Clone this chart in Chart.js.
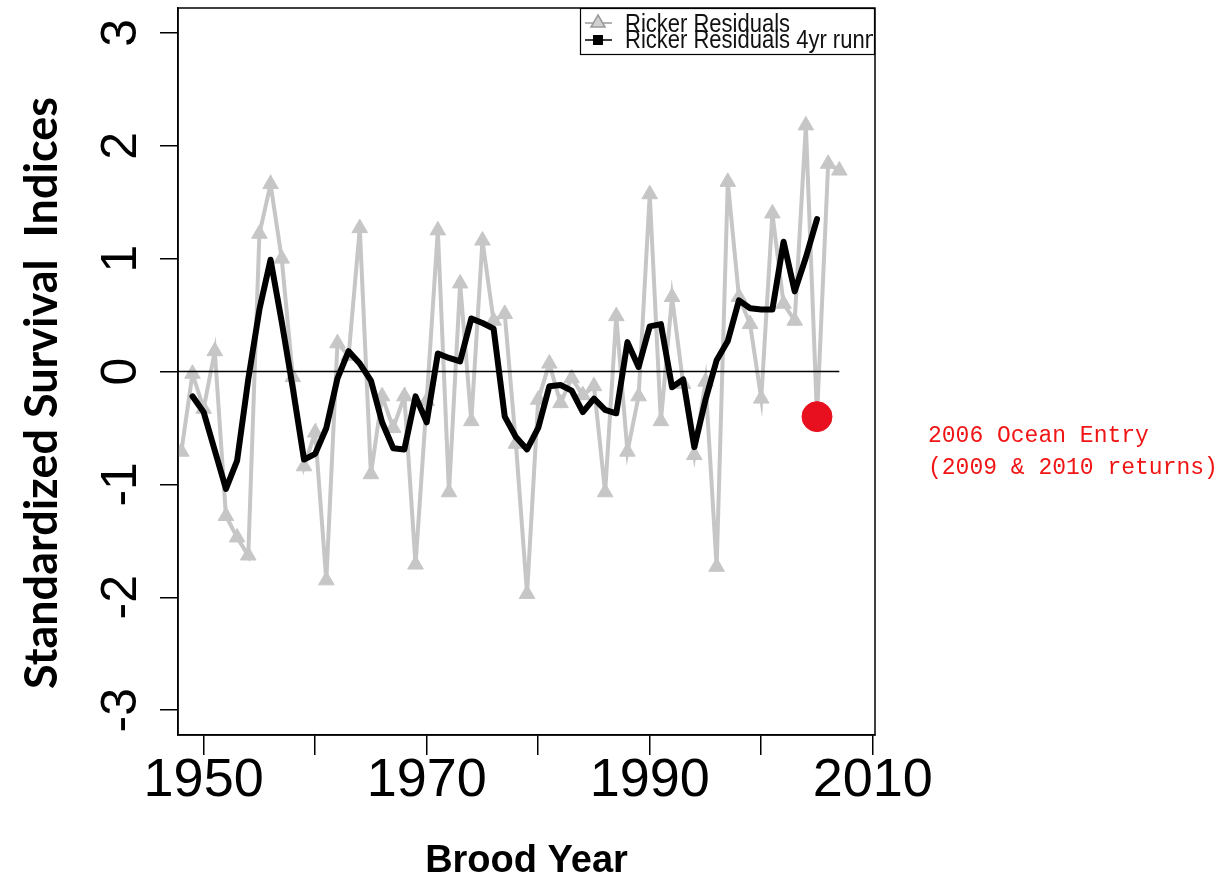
<!DOCTYPE html>
<html>
<head>
<meta charset="utf-8">
<script src="https://cdn.jsdelivr.net/npm/chart.js@4.4.1/dist/chart.umd.min.js"></script>
<style>
  html, body { margin: 0; padding: 0; background: #fff; }
  #wrap { width: 1225px; height: 884px; }
</style>
</head>
<body>
<div id="wrap"><canvas id="chart" width="1225" height="884"></canvas></div>
<script>
// brood years and Ricker residuals
const residYears = [1948, 1949, 1950, 1951, 1952, 1953, 1954, 1955, 1956, 1957,
    1958, 1959, 1960, 1961, 1962, 1963, 1964, 1965, 1966, 1967,
    1968, 1969, 1970, 1971, 1972, 1973, 1974, 1975, 1976, 1977,
    1978, 1979, 1980, 1981, 1982, 1983, 1984, 1985, 1986, 1987,
    1988, 1989, 1990, 1991, 1992, 1993, 1994, 1995, 1996, 1997,
    1998, 1999, 2000, 2001, 2002, 2003, 2004, 2005, 2006, 2007]
const residuals = [-0.71, -0.02, -0.33, 0.18, -1.28, -1.47, -1.63, 1.22, 1.66, 1.00,
    -0.05, -0.84, -0.54, -1.85, 0.25, 0.14, 1.27, -0.91, -0.22, -0.50,
    -0.22, -1.71, -0.26, 1.25, -1.07, 0.78, -0.44, 1.16, 0.45, 0.51,
    -0.64, -1.97, -0.25, 0.07, -0.28, -0.06, -0.21, -0.13, -1.07, 0.49,
    -0.71, -0.22, 1.57, -0.44, 0.66, -0.11, -0.74, -0.09, -1.73, 1.68,
    0.66, 0.42, -0.24, 1.40, 0.60, 0.45, 2.18, -0.40, 1.84, 1.78]

// 4 year running mean
const runYears = [1949, 1950, 1951, 1952, 1953, 1954, 1955, 1956, 1957, 1958,
    1959, 1960, 1961, 1962, 1963, 1964, 1965, 1966, 1967, 1968,
    1969, 1970, 1971, 1972, 1973, 1974, 1975, 1976, 1977, 1978,
    1979, 1980, 1981, 1982, 1983, 1984, 1985, 1986, 1987, 1988,
    1989, 1990, 1991, 1992, 1993, 1994, 1995, 1996, 1997, 1998,
    1999, 2000, 2001, 2002, 2003, 2004, 2005]
const runMean = [-0.22, -0.36, -0.70, -1.04, -0.79, -0.07, 0.55, 0.99, 0.44, -0.15,
    -0.78, -0.73, -0.50, -0.06, 0.18, 0.07, -0.08, -0.45, -0.68, -0.69,
    -0.22, -0.45, 0.16, 0.12, 0.09, 0.47, 0.43, 0.38, -0.40, -0.58,
    -0.69, -0.50, -0.13, -0.12, -0.17, -0.36, -0.24, -0.34, -0.37, 0.26,
    0.04, 0.40, 0.42, -0.14, -0.07, -0.67, -0.25, 0.10, 0.27, 0.63,
    0.56, 0.55, 0.55, 1.15, 0.71, 1.01, 1.35]

// highlighted brood year (2006 ocean entry)
const entryYear = [2005]
const entryValue = [-0.40]

const zeroSpan = [1947, 2007]
const xTickYears = [1950, 1960, 1970, 1980, 1990, 2000, 2010]
const xLabelYears = [1950, 1970, 1990, 2010]
const yTicks = [-3, -2, -1, 0, 1, 2, 3]

function pairs(xs, ys) {
    return xs.map((x, i) => ({ x: x, y: ys[i] }))
}

// box round the plot, y title, legend and the side note
const extras = {
    id: 'extras',
    afterDraw(chart) {
        const ctx = chart.ctx
        const a = chart.chartArea
        ctx.save()
        ctx.strokeStyle = '#000'
        ctx.lineWidth = 1.5
        ctx.strokeRect(a.left, a.top, a.right - a.left, a.bottom - a.top)

        // y title
        ctx.save()
        ctx.translate(42, 393)
        ctx.rotate(-Math.PI / 2)
        ctx.fillStyle = '#000'
        ctx.font = 'bold 45px Lato'
        ctx.textAlign = 'center'
        ctx.textBaseline = 'middle'
        ctx.fillText('Standardized Survival  Indices', 0, 0)
        ctx.restore()

        // legend, tucked into the top right corner
        const lx = 580, ly = a.top, lw = a.right - 580, lh = 47
        ctx.save()
        ctx.fillStyle = '#fff'
        ctx.fillRect(lx, ly, lw, lh)
        ctx.lineWidth = 1.2
        ctx.strokeStyle = '#000'
        ctx.strokeRect(lx + 0.5, ly + 0.5, lw - 1, lh - 1)
        ctx.beginPath()
        ctx.rect(lx, ly, lw - 2, lh)
        ctx.clip()
        ctx.lineWidth = 1.5
        ctx.strokeStyle = '#9a9a9a'
        ctx.beginPath(); ctx.moveTo(lx + 5, ly + 15); ctx.lineTo(lx + 32, ly + 15); ctx.stroke()
        ctx.beginPath(); ctx.moveTo(lx + 18, ly + 7); ctx.lineTo(lx + 25, ly + 19); ctx.lineTo(lx + 11, ly + 19); ctx.closePath()
        ctx.fillStyle = '#d0d0d0'; ctx.fill(); ctx.stroke()
        ctx.strokeStyle = '#000'
        ctx.beginPath(); ctx.moveTo(lx + 5, ly + 32); ctx.lineTo(lx + 32, ly + 32); ctx.stroke()
        ctx.fillStyle = '#000'
        ctx.fillRect(lx + 13, ly + 27, 10, 10)
        ctx.fillStyle = '#111'
        ctx.font = '25px "Liberation Sans"'
        ctx.textBaseline = 'alphabetic'
        ctx.save(); ctx.translate(lx + 45, ly + 24); ctx.scale(0.88, 1)
        ctx.fillText('Ricker Residuals', 0, 0); ctx.restore()
        ctx.save(); ctx.translate(lx + 45, ly + 40); ctx.scale(0.88, 1)
        ctx.fillText('Ricker Residuals 4yr running mean', 0, 0); ctx.restore()
        ctx.restore()

        // side note
        ctx.fillStyle = '#f01414'
        ctx.font = '23px "Liberation Mono"'
        ctx.textBaseline = 'alphabetic'
        ctx.fillText('2006 Ocean Entry', 928, 442)
        ctx.fillText('(2009 & 2010 returns)', 928, 474)
        ctx.restore()
    }
}

Chart.defaults.font.family = '"Liberation Sans", Arial, sans-serif'
Chart.defaults.color = '#000'

const ctx = document.getElementById('chart').getContext('2d')
const chart = new Chart(ctx, {
    type: 'line',
    data: {
        datasets: [{
            label: 'Ricker Residuals',
            data: pairs(residYears, residuals),
            borderColor: '#c6c6c6',
            borderWidth: 4,
            pointStyle: 'triangle',
            pointRadius: 9,
            pointBackgroundColor: '#c6c6c6',
            pointBorderColor: '#c6c6c6',
            pointBorderWidth: 1,
            tension: 0,
            order: 4
        }, {
            label: 'zero',
            data: pairs(zeroSpan, [0, 0]),
            borderColor: '#000',
            borderWidth: 1.5,
            pointRadius: 0,
            order: 3
        }, {
            label: 'Ricker Residuals 4yr running mean',
            data: pairs(runYears, runMean),
            borderColor: '#000',
            borderWidth: 6,
            borderJoinStyle: 'round',
            borderCapStyle: 'round',
            pointRadius: 0,
            tension: 0,
            order: 2
        }, {
            label: '2006 Ocean Entry',
            data: pairs(entryYear, entryValue),
            showLine: false,
            pointRadius: 15,
            pointBackgroundColor: '#e8101e',
            pointBorderColor: '#e8101e',
            order: 1
        }]
    },
    options: {
        responsive: false,
        animation: false,
        events: [],
        layout: { autoPadding: false, padding: { top: 8, right: 350, left: 0, bottom: 0 } },
        plugins: {
            legend: { display: false },
            tooltip: { enabled: false }
        },
        scales: {
            x: {
                type: 'linear',
                min: 1947.7,
                max: 2010.2,
                afterBuildTicks: s => { s.ticks = xTickYears.map(v => ({ value: v })) },
                afterFit: s => { s.height = 149; s.paddingLeft = 0; s.paddingRight = 0 },
                grid: { drawOnChartArea: false, color: '#000', lineWidth: 1.5, tickLength: 20 },
                border: { display: true, color: '#000', width: 1.5 },
                ticks: {
                    font: { size: 54 },
                    padding: -6,
                    maxRotation: 0,
                    autoSkip: false,
                    callback: v => xLabelYears.includes(v) ? String(v) : ''
                },
                title: {
                    display: true,
                    text: 'Brood Year',
                    font: { size: 38, weight: 'bold' },
                    padding: { top: 0, bottom: 0 }
                }
            },
            y: {
                min: -3.22,
                max: 3.22,
                afterBuildTicks: s => { s.ticks = yTicks.map(v => ({ value: v })) },
                afterFit: s => { s.width = 178; s.paddingTop = 0; s.paddingBottom = 0 },
                grid: { drawOnChartArea: false, color: '#000', lineWidth: 1.5, tickLength: 18 },
                border: { display: true, color: '#000', width: 1.5 },
                ticks: {
                    font: { size: 50 },
                    minRotation: 90,
                    maxRotation: 90,
                    crossAlign: 'center',
                    padding: 16,
                    callback: v => String(v)
                }
            }
        }
    },
    plugins: [extras]
})
</script>
</body>
</html>
